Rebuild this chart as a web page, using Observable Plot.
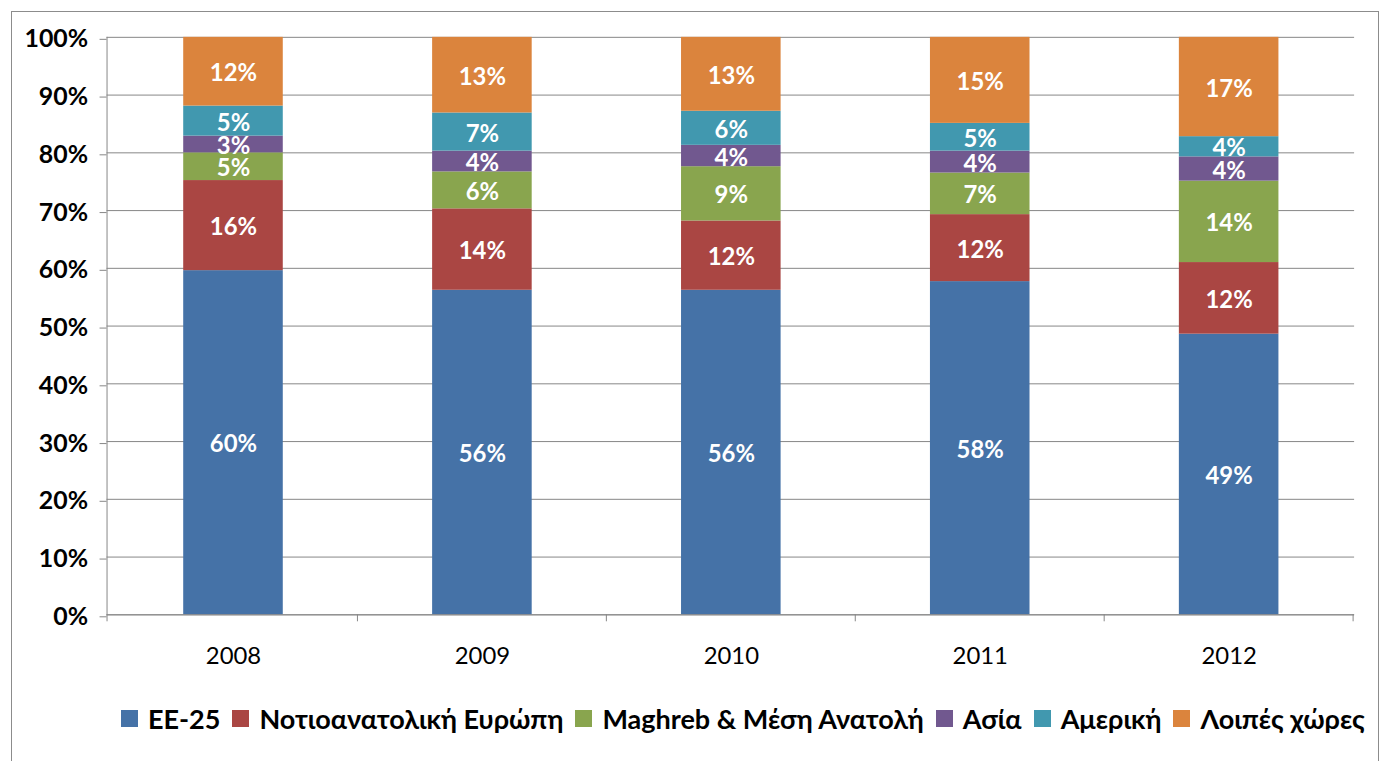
<!DOCTYPE html>
<html>
<head>
<meta charset="utf-8">
<script src="https://cdn.jsdelivr.net/npm/d3@7"></script>
<script src="https://cdn.jsdelivr.net/npm/@observablehq/plot@0.6"></script>
<style>
  html, body { margin: 0; padding: 0; background: white; }
  body { width: 1384px; height: 761px; position: relative; overflow: hidden; font-family: Lato, "Noto Sans", sans-serif; }
  #frame { position: absolute; left: 11px; top: 11px; width: 1366px; height: 800px; border: 1px solid #8c8c8c; overflow: hidden; }
  #chart { position: absolute; left: -12px; top: -12px; }
  #legend { position: absolute; left: 109px; top: 690px; white-space: nowrap; display: flex; align-items: center; font-weight: bold; font-size: 27px; color: #000; }
  .item { display: inline-flex; align-items: center; margin-right: 12px; }
  .sw { width: 17px; height: 17px; margin-right: 10px; display: inline-block; }
</style>
</head>
<body>
<div id="frame">
  <div id="chart"></div>
  <div id="legend"></div>
</div>
<script>
// ---- data ----
const years = ["2008", "2009", "2010", "2011", "2012"];
const regions = ["ΕΕ-25", "Νοτιοανατολική Ευρώπη", "Maghreb & Μέση Ανατολή", "Ασία", "Αμερική", "Λοιπές χώρες"];
const colors = ["#4572A7", "#AA4643", "#89A54E", "#71588F", "#4198AF", "#DB843D"];
const ee25      = [59.6, 56.2, 56.2, 57.7, 48.6];
const seEurope  = [15.6, 14.1, 12.0, 11.6, 12.4];
const maghreb   = [4.8, 6.4, 9.4, 7.2, 14.1];
const asia      = [2.9, 3.6, 3.7, 3.8, 4.2];
const america   = [5.2, 6.6, 5.9, 4.8, 3.5];
const others    = [11.9, 13.1, 12.8, 14.9, 17.2];
const yTicks = [0, 10, 20, 30, 40, 50, 60, 70, 80, 90, 100];

const series = [ee25, seEurope, maghreb, asia, america, others];
const data = [];
years.forEach((yr, i) => {
  regions.forEach((r, j) => data.push({year: yr, region: r, value: series[j][i]}));
});

const grid = "#868686";
const chart = Plot.plot({
  width: 1384,
  height: 690,
  marginLeft: 107,
  marginRight: 24,
  marginTop: 37,
  marginBottom: 73,
  style: {fontFamily: "Lato, 'Noto Sans', sans-serif", fontSize: "24px", background: "white", color: "black"},
  x: {domain: years, paddingInner: 0.6, paddingOuter: 0.3, label: null},
  y: {domain: [0, 100], label: null},
  color: {domain: regions, range: colors},
  marks: [
    Plot.ruleY(yTicks, {stroke: grid, strokeWidth: 1}),
    Plot.barY(data, Plot.stackY({x: "year", y: "value", fill: "region", order: regions})),
    Plot.text(data, Plot.stackY({x: "year", y: "value", z: "region", order: regions,
      text: d => Math.round(d.value) + "%", fill: "white", fontWeight: "bold", fontSize: 24, dy: 2})),
    Plot.axisY(yTicks, {tickSize: 7, tickPadding: 12, stroke: grid, fill: "black", fontWeight: "bold", fontSize: 25, tickFormat: d => d + "%", dy: 2}),
    Plot.axisX({tickSize: 0, tickPadding: 32, fontSize: 24, fill: "black"})
  ]
});

// axis line and band-boundary ticks from the scales
const xs = chart.scale("x"), ys = chart.scale("y");
const svg = d3.select(chart);
const g = svg.append("g").attr("stroke", grid).attr("stroke-width", 1);
const y0 = ys.apply(0), y100 = ys.apply(100);
const half = (xs.step - xs.bandwidth) / 2;
g.append("line").attr("x1", xs.range[0] + 0.5).attr("x2", xs.range[0] + 0.5).attr("y1", y100).attr("y2", y0 + 7);
years.forEach((yr, i) => {
  const bx = xs.apply(yr) + xs.bandwidth + half;
  g.append("line").attr("x1", bx).attr("x2", bx).attr("y1", y0).attr("y2", y0 + 7);
});
g.append("line").attr("x1", xs.range[0]).attr("x2", xs.range[1]).attr("y1", y0 + 0.5).attr("y2", y0 + 0.5);
document.getElementById("chart").appendChild(chart);

// legend
const legend = d3.select("#legend");
regions.forEach((r, j) => {
  const it = legend.append("span").attr("class", "item");
  it.append("span").attr("class", "sw").style("background", colors[j]);
  it.append("span").text(r);
});
</script>
</body>
</html>
